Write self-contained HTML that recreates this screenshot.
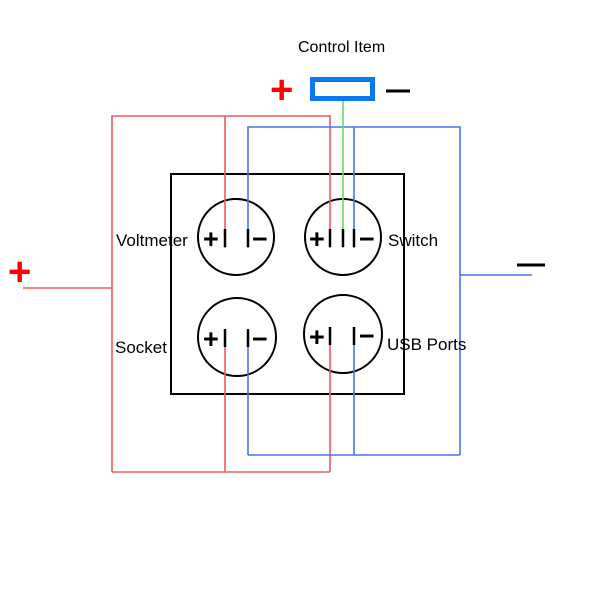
<!DOCTYPE html>
<html><head><style>body{margin:0;background:#fff}svg{display:block}</style></head>
<body>
<svg width="600" height="600" xmlns="http://www.w3.org/2000/svg" font-family="Liberation Sans, sans-serif">
<rect width="600" height="600" fill="#fff"/>
<rect x="171" y="174" width="233" height="220" fill="none" stroke="#000" stroke-width="2"/>
<g fill="none" stroke="#000" stroke-width="2">
<circle cx="236" cy="237" r="38"/>
<circle cx="343" cy="237" r="38"/>
<circle cx="237" cy="337" r="39"/>
<circle cx="343" cy="334" r="39"/>
</g>
<g stroke="#f05a5a" stroke-width="1.6" fill="none">
<polyline points="112,472 112,116 330,116 330,248"/>
<line x1="225" y1="116" x2="225" y2="248"/>
<line x1="23" y1="288" x2="112" y2="288"/>
<line x1="112" y1="472" x2="330" y2="472"/>
<line x1="225" y1="345" x2="225" y2="472"/>
<line x1="330" y1="343" x2="330" y2="472"/>
</g>
<g stroke="#4a74f0" stroke-width="1.6" fill="none">
<polyline points="248,248 248,127 460,127 460,455"/>
<line x1="354" y1="127" x2="354" y2="248"/>
<line x1="460" y1="275" x2="532" y2="275"/>
<line x1="248" y1="455" x2="460" y2="455"/>
<line x1="248" y1="345" x2="248" y2="455"/>
<line x1="354" y1="343" x2="354" y2="455"/>
</g>
<line x1="343" y1="100" x2="343" y2="248" stroke="#6bd86b" stroke-width="1.6"/>
<rect x="312.5" y="79.5" width="60" height="19" fill="none" stroke="#0a78f0" stroke-width="5"/>
<text x="270" y="103" font-size="40" font-weight="bold" fill="#f00">+</text>
<line x1="386" y1="91" x2="410" y2="91" stroke="#000" stroke-width="3"/>
<text x="8" y="285" font-size="40" font-weight="bold" fill="#f00">+</text>
<line x1="517" y1="265" x2="545" y2="265" stroke="#000" stroke-width="3"/>
<text x="298" y="52" font-size="16" fill="#000">Control Item</text>
<g font-size="27" font-weight="bold" fill="#000">
<text x="203" y="248">+</text><text x="252" y="248">−</text>
<text x="309" y="248">+</text><text x="359" y="248">−</text>
<text x="203" y="348">+</text><text x="252" y="348">−</text>
<text x="309" y="346">+</text><text x="359" y="345">−</text>
</g>
<g stroke="#000" stroke-width="2.5">
<line x1="225" y1="229" x2="225" y2="247"/><line x1="248" y1="229" x2="248" y2="247"/>
<line x1="330" y1="229" x2="330" y2="247"/><line x1="343" y1="229" x2="343" y2="247"/><line x1="354" y1="229" x2="354" y2="247"/>
<line x1="225" y1="329" x2="225" y2="347"/><line x1="248" y1="329" x2="248" y2="347"/>
<line x1="330" y1="327" x2="330" y2="345"/><line x1="354" y1="327" x2="354" y2="345"/>
</g>
<g font-size="17" fill="#000">
<text x="116" y="246">Voltmeter</text>
<text x="388" y="246">Switch</text>
<text x="115" y="353">Socket</text>
<text x="387" y="350">USB Ports</text>
</g>
</svg>
</body></html>
